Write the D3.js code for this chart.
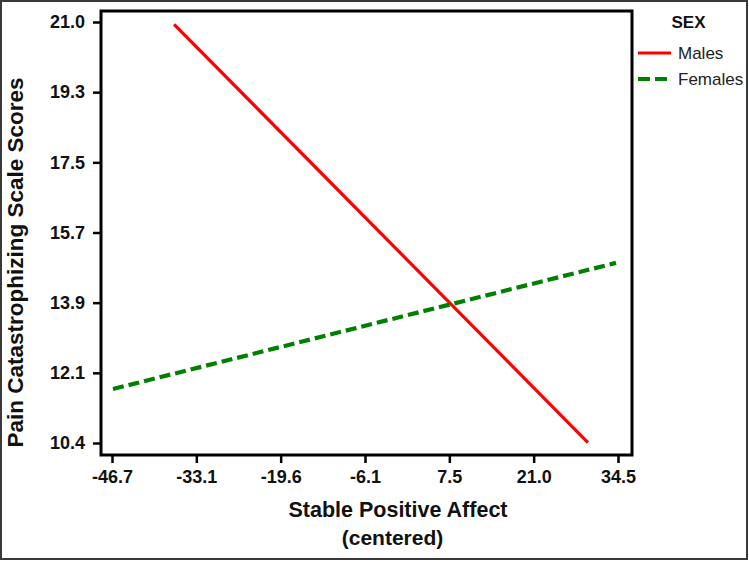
<!DOCTYPE html>
<html>
<head>
<meta charset="utf-8">
<script src="https://cdn.jsdelivr.net/npm/d3@7"></script>
<style>
  html, body { margin: 0; padding: 0; background: #fff; }
  svg { display: block; font-family: "Liberation Sans", Arial, sans-serif; }
</style>
</head>
<body>
<svg id="chart" width="749" height="562"></svg>
<script>
// ---- data ----
const seriesNames = ["Males", "Females"];
const malesX = [-36.7, 29.7];
const malesY = [20.98, 10.37];
const femalesX = [-46.5, 34.2];
const femalesY = [11.73, 14.93];
const xTickValues = [-46.66, -33.13, -19.6, -6.07, 7.46, 20.99, 34.52];
const yTickValues = [10.36, 12.14, 13.92, 15.70, 17.48, 19.26, 21.04];
const xTitle = "Stable Positive Affect";
const xTitle2 = "(centered)";
const yTitle = "Pain Catastrophizing Scale Scores";
const legendTitle = "SEX";

const svg = d3.select("#chart");

// outer frame
svg.append("rect").attr("x", 1).attr("y", 1).attr("width", 746).attr("height", 558)
  .attr("fill", "#fff").attr("stroke", "#3a3a3a").attr("stroke-width", 2);

const box = {left: 101, right: 632, top: 11, bottom: 455};

const x = d3.scaleLinear().domain([-46.66, 34.52]).range([112, 618]);
const y = d3.scaleLinear().domain([10.36, 21.04]).range([443, 22]);

// axes
const fmt = v => v.toFixed(1);
const yAxis = svg.append("g").attr("transform", `translate(${box.left},0)`)
  .call(d3.axisLeft(y).tickValues(yTickValues).tickFormat(fmt).tickSize(8).tickPadding(8));
const xAxis = svg.append("g").attr("transform", `translate(0,${box.bottom})`)
  .call(d3.axisBottom(x).tickValues(xTickValues).tickFormat(fmt).tickSize(8).tickPadding(7));
[yAxis, xAxis].forEach(g => {
  g.select(".domain").remove();
  g.selectAll(".tick line").attr("stroke", "#000").attr("stroke-width", 2.5);
  g.selectAll(".tick text").attr("fill", "#111").style("font-size", "18px")
    .style("font-weight", "bold").style("font-family", "'Liberation Sans', Arial, sans-serif");
});

// plot box
svg.append("rect").attr("x", box.left).attr("y", box.top)
  .attr("width", box.right - box.left).attr("height", box.bottom - box.top)
  .attr("fill", "none").attr("stroke", "#000").attr("stroke-width", 3);

// lines
const line = d3.line().x(d => x(d[0])).y(d => y(d[1]));
const males = malesX.map((v, i) => [v, malesY[i]]);
const females = femalesX.map((v, i) => [v, femalesY[i]]);
svg.append("path").datum(males).attr("d", line).attr("fill", "none")
  .attr("stroke", "#ff0000").attr("stroke-width", 3.2);
svg.append("path").datum(females).attr("d", line).attr("fill", "none")
  .attr("stroke", "#008000").attr("stroke-width", 4.2).attr("stroke-dasharray", "11,5");

// axis titles
svg.append("text").attr("x", 398).attr("y", 517).attr("text-anchor", "middle")
  .style("font-size", "21.5px").style("font-weight", "bold").attr("fill", "#111").text(xTitle);
svg.append("text").attr("x", 392.5).attr("y", 545).attr("text-anchor", "middle")
  .style("font-size", "21px").style("font-weight", "bold").attr("fill", "#111").text(xTitle2);
svg.append("text").attr("transform", "translate(23,262.5) rotate(-90)").attr("text-anchor", "middle")
  .style("font-size", "22.5px").style("font-weight", "bold").attr("fill", "#111").text(yTitle);

// legend
const lg = svg.append("g");
lg.append("text").attr("x", 688.5).attr("y", 28).attr("text-anchor", "middle")
  .style("font-size", "17px").style("font-weight", "bold").attr("fill", "#111").text(legendTitle);
const legendStyles = [
  {color: "#ff0000", dash: null, width: 3.2},
  {color: "#008000", dash: "12,5", width: 4.2}
];
seriesNames.forEach((name, i) => {
  const yy = 53 + i * 26;
  lg.append("line").attr("x1", 638).attr("x2", 671).attr("y1", yy).attr("y2", yy)
    .attr("stroke", legendStyles[i].color).attr("stroke-width", legendStyles[i].width)
    .attr("stroke-dasharray", legendStyles[i].dash);
  lg.append("text").attr("x", 678).attr("y", yy + 6)
    .style("font-size", "17px").attr("fill", "#222").text(name);
});
</script>
</body>
</html>
